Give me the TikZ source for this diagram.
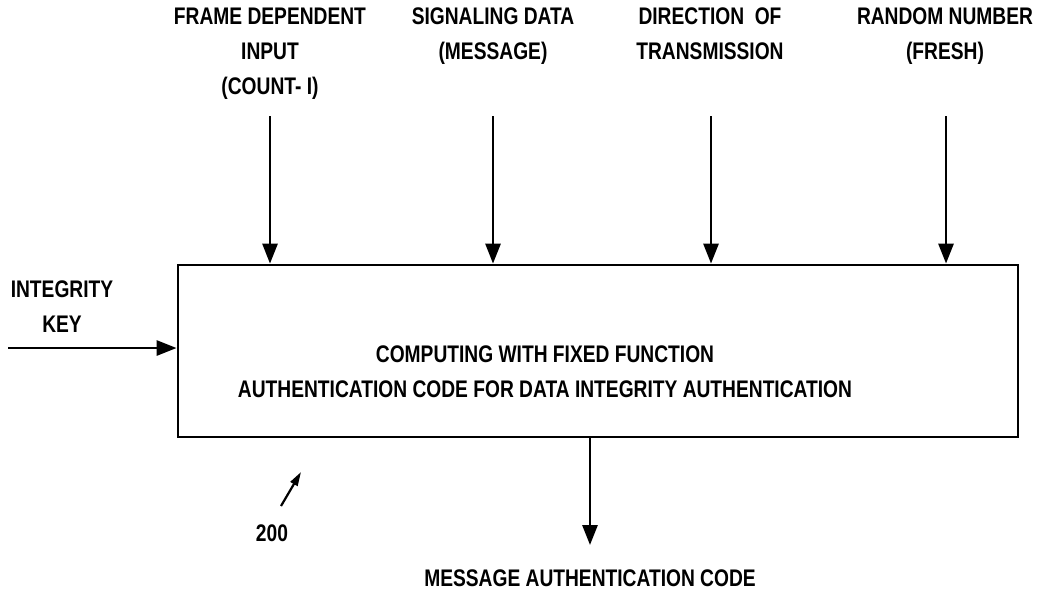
\documentclass[tikz,border=0pt]{standalone}
\usepackage{fontspec}
\setmainfont{Liberation Sans}[FakeStretch=0.8]
\usetikzlibrary{arrows.meta, positioning, calc}

\tikzset{
  lbl/.style={align=center, font=\fontsize{24}{35}\selectfont\bfseries},
  feed/.style={line width=2.8pt, -{Triangle[length=20pt, width=15pt]}}
}

\begin{document}
\begin{tikzpicture}[x=1pt,y=-1pt]
  \path[use as bounding box] (0,0) rectangle (1037,590);
  \node[draw, line width=2.8pt, minimum width=840pt, minimum height=172pt] (box) at (598,351) {};
  \node[lbl] at (545,372) {COMPUTING WITH FIXED FUNCTION\\AUTHENTICATION CODE FOR DATA INTEGRITY AUTHENTICATION};
  % inputs along the top
  \node[lbl, anchor=north] (frame) at (270,4) {FRAME DEPENDENT\\INPUT\\(COUNT- I)};
  \node[lbl, anchor=north] (signal) at (493,4) {SIGNALING DATA\\(MESSAGE)};
  \node[lbl, anchor=north] (direct) at (710,4) {DIRECTION\ \ OF\\TRANSMISSION};
  \node[lbl, anchor=north] (fresh) at (945,4) {RANDOM NUMBER\\(FRESH)};
  \foreach \n/\x in {frame/270,signal/493,direct/711,fresh/946}{
    \coordinate (\n top) at (\x,116);
    \draw[feed] (\n top) -- (\n top |- box.north);
  }
  % key on the left
  \node[lbl] (key) at (62,307) {INTEGRITY\\KEY};
  \coordinate (keyend) at (8,348);
  \draw[feed] (keyend) -- (keyend -| box.west);
  % output
  \node[lbl] (mac) at (590,578) {MESSAGE AUTHENTICATION CODE};
  \coordinate (macend) at (590,545);
  \draw[feed] (macend |- box.south) -- (macend);
  % reference numeral
  \node[lbl] (num) at (272,533) {200};
  \coordinate (numtail) at (281,506);
  \coordinate (numtip) at (301,472);
  \draw[line width=2.2pt, -{Triangle[length=14pt, width=8pt]}] (numtail) -- (numtip);
\end{tikzpicture}
\end{document}
